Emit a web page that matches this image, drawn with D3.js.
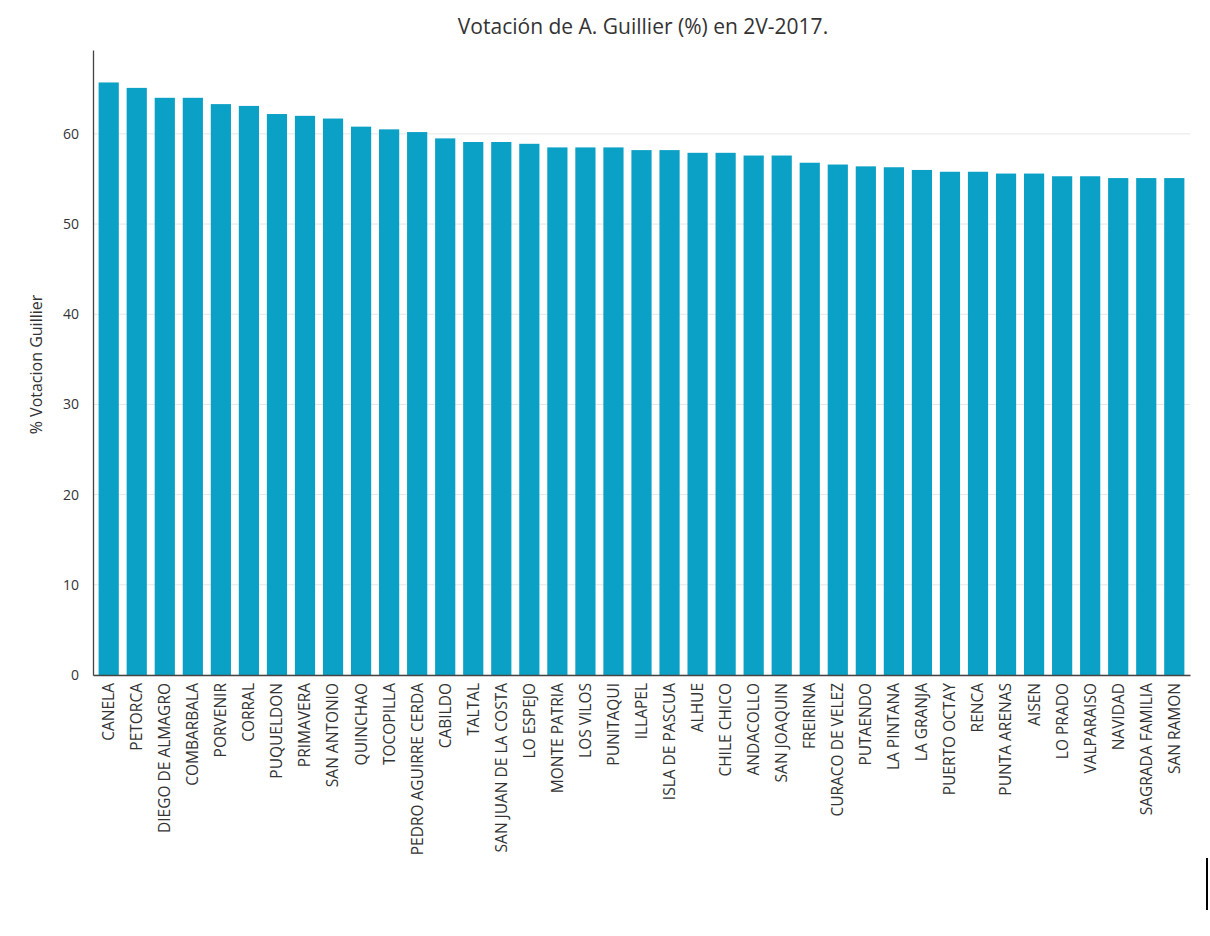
<!DOCTYPE html>
<html><head><meta charset="utf-8">
<script src="https://cdn.jsdelivr.net/npm/d3@7"></script>
<style>body{margin:0;background:#fff;font-family:"Open Sans",sans-serif;}</style>
</head><body>
<script>
const comunas = ['CANELA','PETORCA','DIEGO DE ALMAGRO','COMBARBALA','PORVENIR','CORRAL','PUQUELDON','PRIMAVERA','SAN ANTONIO','QUINCHAO','TOCOPILLA','PEDRO AGUIRRE CERDA','CABILDO','TALTAL','SAN JUAN DE LA COSTA','LO ESPEJO','MONTE PATRIA','LOS VILOS','PUNITAQUI','ILLAPEL','ISLA DE PASCUA','ALHUE','CHILE CHICO','ANDACOLLO','SAN JOAQUIN','FREIRINA','CURACO DE VELEZ','PUTAENDO','LA PINTANA','LA GRANJA','PUERTO OCTAY','RENCA','PUNTA ARENAS','AISEN','LO PRADO','VALPARAISO','NAVIDAD','SAGRADA FAMILIA','SAN RAMON'];
const votos = [65.7,65.1,64.0,64.0,63.3,63.1,62.2,62.0,61.7,60.8,60.5,60.2,59.5,59.1,59.1,58.9,58.5,58.5,58.5,58.2,58.2,57.9,57.9,57.6,57.6,56.8,56.6,56.4,56.3,56.0,55.8,55.8,55.6,55.6,55.3,55.3,55.1,55.1,55.1];
const yTicks = [0,10,20,30,40,50,60];

const width = 1210, height = 936;
const margin = {top: 50, right: 20, bottom: 261, left: 93};

const svg = d3.select('body').append('svg').attr('width', width).attr('height', height);

const x = d3.scaleBand().domain(comunas).range([margin.left, 1190]).paddingInner(0.28).paddingOuter(0.2);
const y = d3.scaleLinear().domain([0, 69.3]).range([height - margin.bottom, margin.top]);

// gridlines
svg.append('g').selectAll('line').data(yTicks).join('line')
  .attr('x1', margin.left).attr('x2', 1190)
  .attr('y1', d => y(d)).attr('y2', d => y(d))
  .attr('stroke', '#e6e6e6');

svg.append('g').selectAll('rect').data(votos).join('rect')
  .attr('x', (d, i) => x(comunas[i]))
  .attr('width', x.bandwidth())
  .attr('y', d => y(d))
  .attr('height', d => y(0) - y(d))
  .attr('fill', '#0ba0c5');

const yAxis = svg.append('g').attr('transform', `translate(${margin.left},0)`)
  .call(d3.axisLeft(y).tickValues(yTicks).tickSize(0).tickPadding(14));
const xAxis = svg.append('g').attr('transform', `translate(0,${y(0)})`)
  .call(d3.axisBottom(x).tickSize(0).tickPadding(0));

[yAxis, xAxis].forEach(a => {
  a.select('.domain').attr('stroke', '#444').attr('stroke-width', 1.3);
  a.selectAll('text').attr('fill', '#333').style('font-family', '"Open Sans", sans-serif');
});
yAxis.selectAll('text').style('font-size', '14px');
xAxis.selectAll('text')
  .style('font-size', '15.5px')
  .attr('transform', 'rotate(-90)')
  .attr('text-anchor', 'end')
  .attr('dx', '-8px').attr('dy', '0.35em').attr('y', 0).attr('x', 0);

svg.append('text')
  .attr('transform', `translate(42,${(margin.top + y(0)) / 2 + 2}) rotate(-90)`)
  .attr('text-anchor', 'middle').attr('fill', '#333').style('font-size', '16px')
  .text('% Votacion Guillier');

svg.append('text').attr('x', 643).attr('y', 34).attr('text-anchor', 'middle')
  .attr('fill', '#333').style('font-size', '21px')
  .text('Votación de A. Guillier (%) en 2V-2017.');

svg.append('line').attr('x1', 1207).attr('x2', 1207).attr('y1', 858).attr('y2', 910)
  .attr('stroke', '#000').attr('stroke-width', 2);
</script>
</body></html>
